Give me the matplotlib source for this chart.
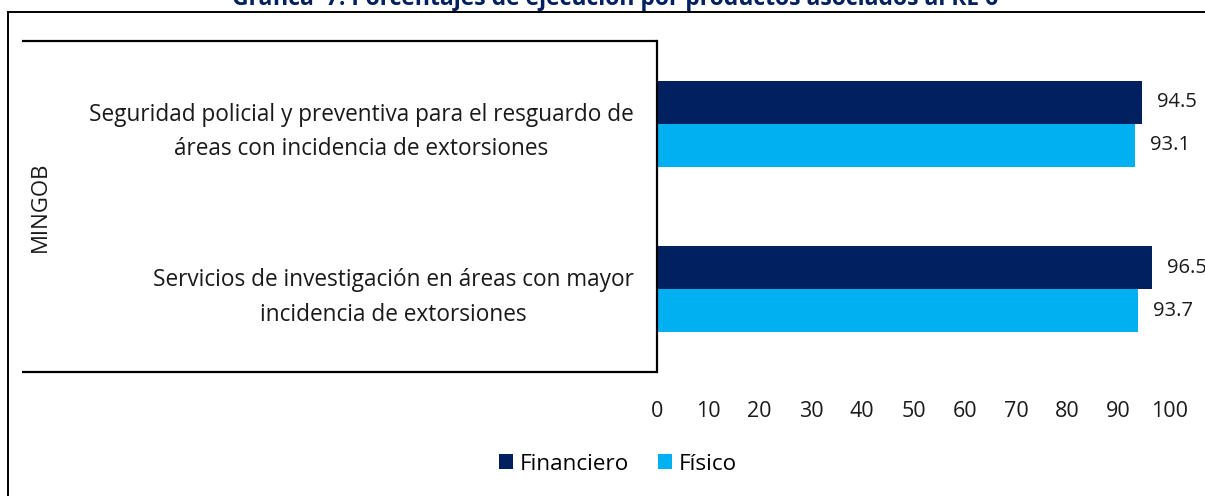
import numpy as np
import matplotlib.pyplot as plt
from matplotlib.lines import Line2D

plt.rcParams['font.family'] = ['Open Sans', 'DejaVu Sans']

categories = ['Seguridad policial y preventiva para el resguardo de\náreas con incidencia de extorsiones',
              'Servicios de investigación en áreas con mayor\nincidencia de extorsiones']
financiero = [94.5, 96.5]
fisico = [93.1, 93.7]
group_label = 'MINGOB'
title = 'Gráfica  7: Porcentajes de ejecución por productos asociados al RE 6'

W, H = 1205, 496
fig = plt.figure(figsize=(W / 100, H / 100), dpi=100)
ax = fig.add_axes([657 / W, 1 - 372 / H, (1170 - 657) / W, (372 - 41) / H])

y = np.arange(len(categories))
h = 0.26
c_fin = '#002060'
c_fis = '#00b0f0'
b1 = ax.barh(y - h / 2, financiero, height=h, color=c_fin, label='Financiero')
b2 = ax.barh(y + h / 2, fisico, height=h, color=c_fis, label='Físico')
for bars, vals in ((b1, financiero), (b2, fisico)):
    for bar, v in zip(bars, vals):
        ax.annotate(f'{v:.1f}', (v, bar.get_y() + bar.get_height() / 2),
                    xytext=(11, 0), textcoords='offset points',
                    ha='left', va='center', fontsize=14.5, color='#1a1a1a')

ax.set_xlim(0, 100)
ax.set_ylim(-0.5, 1.5)
ax.invert_yaxis()
ax.set_xticks(range(0, 101, 10))
ax.tick_params(axis='x', length=0, labelsize=15.5, pad=21, colors='#1a1a1a')
ax.set_yticks(y)
ax.set_yticklabels(categories, fontsize=16.3, multialignment='center',
                   linespacing=1.57, color='#1a1a1a')
ax.tick_params(axis='y', length=0, pad=17)
for s in ('top', 'right', 'bottom'):
    ax.spines[s].set_visible(False)
ax.spines['left'].set_linewidth(1.6)
ax.spines['left'].set_color('black')

# category box lines on the left
for py in (41, 372):
    fig.add_artist(Line2D([22 / W, 657 / W], [1 - py / H, 1 - py / H],
                          color='black', lw=1.6, solid_capstyle='butt'))
fig.text(40 / W, 1 - 207 / H, group_label, rotation=90, ha='center', va='center',
         fontsize=16, color='#1a1a1a')

# outer frame
fig.add_artist(Line2D([8 / W, 8 / W], [0, 1 - 12 / H], color='black', lw=1.4))
fig.add_artist(Line2D([8 / W, 1], [1 - 12 / H, 1 - 12 / H], color='black', lw=1.4))

fig.text(615 / W, 1 - 5 / H, title, ha='center', va='baseline',
         fontsize=16.5, fontweight='bold', color='#002060')

fig.legend(handles=[b1, b2], loc='center', bbox_to_anchor=(618 / W, 1 - 464 / H),
           ncol=2, frameon=False, fontsize=16.2, handlelength=0.62, handleheight=0.62,
           handletextpad=0.3, columnspacing=1.3)

fig.savefig('out.png', dpi=100)
